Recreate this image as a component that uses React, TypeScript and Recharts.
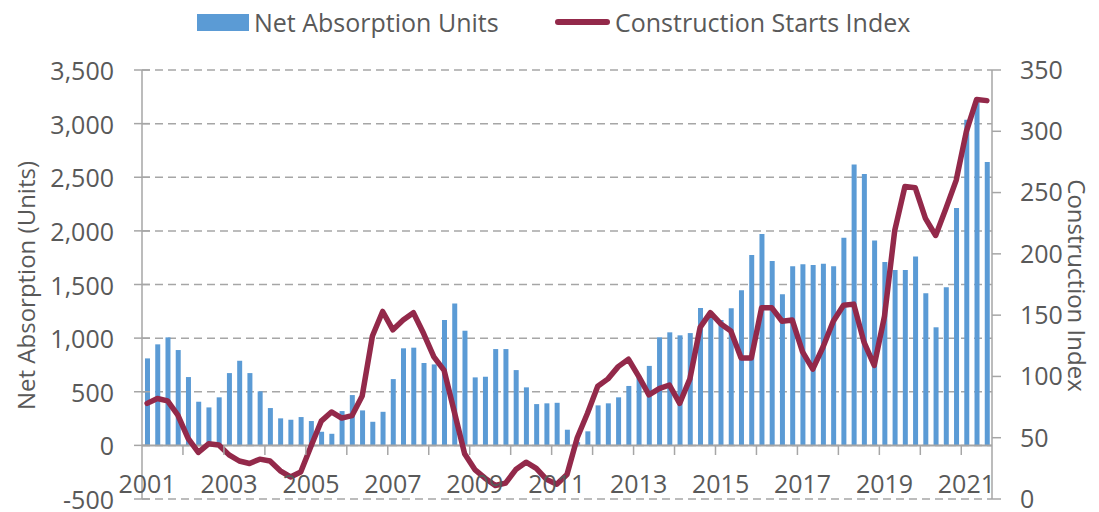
import React from "react";
import {
  ComposedChart,
  Bar,
  Line,
  XAxis,
  YAxis,
  CartesianGrid,
  ReferenceLine,
} from "recharts";

// quarterly series, 2001 Q1 .. 2021 Q3
const quarters = Array.from(
  { length: 83 },
  (_, i) => `${2001 + Math.floor(i / 4)} Q${(i % 4) + 1}`
);

const netAbsorption = [
  811, 942, 1007, 889, 637, 407, 354, 448, 674, 789, 674, 504, 348, 252,
  239, 264, 227, 127, 108, 320, 469, 326, 220, 313, 618, 905, 911, 768,
  755, 1169, 1324, 1069, 634, 640, 898, 898, 702, 541, 385, 392, 397, 146,
  30, 131, 373, 392, 448, 554, 644, 741, 1008, 1054, 1026, 1047, 1280, 1200,
  1169, 1278, 1446, 1775, 1971, 1719, 1408, 1670, 1688, 1682, 1694, 1670,
  1935, 2619, 2531, 1910, 1710, 1635, 1635, 1760, 1418, 1101, 1474, 2214,
  3035, 3200, 2642,
];

const constructionIndex = [
  78, 82, 80, 68.5, 49.5, 38, 45, 44, 36, 31, 29, 32.5, 31, 23, 18, 22, 43,
  63.5, 71, 66, 68, 84, 133, 153, 138, 146, 152, 135, 116, 105, 71, 37, 24,
  17, 11, 13, 24, 30, 25, 16, 12, 20, 50, 70, 92, 98, 108, 114, 100, 85, 90,
  93, 78, 98, 140, 152, 143, 137, 115, 115, 156, 156, 145, 146, 120, 106,
  124, 145, 158, 159, 128, 109, 149, 219, 255, 254, 229, 215, 237, 260, 300,
  326, 325,
];

const yearLabels = ["2001", "2003", "2005", "2007", "2009", "2011", "2013", "2015", "2017", "2019", "2021"];
const leftTicks = [-500, 0, 500, 1000, 1500, 2000, 2500, 3000, 3500];
const rightTicks = [0, 50, 100, 150, 200, 250, 300, 350];

const data = quarters.map((q, i) => ({
  q,
  absorption: netAbsorption[i],
  index: constructionIndex[i],
}));

const FONT = "'Open Sans', sans-serif";
const FS = 25;
const TEXT = "#595959";
const AXIS = "#A6A6A6";
const BLUE = "#5B9BD5";
const RED = "#93294A";

const W = 1091;
const H = 504;
const PLOT_LEFT = 134;
const PLOT_RIGHT = 984;
const ZERO_Y = 438;
const BAND = (PLOT_RIGHT - PLOT_LEFT) / quarters.length;

const XTick = (props: any) => {
  const { x, payload } = props;
  const idx = payload.index;
  const [yr, qt] = String(payload.value).split(" ");
  const showLabel = qt === "Q1" && yearLabels.includes(yr);
  return (
    <g>
      {idx % 4 === 0 && idx > 0 && (
        <line x1={x - BAND / 2} x2={x - BAND / 2} y1={ZERO_Y} y2={ZERO_Y + 9} stroke={AXIS} strokeWidth={1.5} />
      )}
      {showLabel && (
        <text x={x} y={475} textAnchor="middle" dominantBaseline="central" fill={TEXT} fontSize={FS} fontFamily={FONT}>
          {yr}
        </text>
      )}
    </g>
  );
};

// Excel style cross tick on the left axis
const LeftTick = (props: any) => {
  const { x, y, payload } = props;
  const ax = x + 28;
  return (
    <g>
      <line x1={ax - 8} x2={ax + 8} y1={y} y2={y} stroke={AXIS} strokeWidth={1.5} />
      <text x={x} y={y} textAnchor="end" dominantBaseline="central" fill={TEXT} fontSize={FS} fontFamily={FONT}>
        {Number(payload.value).toLocaleString("en-US")}
      </text>
    </g>
  );
};

const AxisTitle = (props: any) => {
  const { viewBox, text, side } = props;
  const cx = side === "left" ? viewBox.x + 17 : viewBox.x + viewBox.width - 22;
  const cy = viewBox.y + viewBox.height / 2 + 1;
  return (
    <text
      x={cx}
      y={cy}
      transform={`rotate(${side === "left" ? -90 : 90}, ${cx}, ${cy})`}
      textAnchor="middle"
      dominantBaseline="central"
      fill={TEXT}
      fontSize={24}
      fontFamily={FONT}
    >
      {text}
    </text>
  );
};

export default function App() {
  return (
    <div style={{ position: "relative", width: W, height: H, fontFamily: FONT }}>
      {/* legend */}
      <div style={{ position: "absolute", left: 189, top: 6, width: 52, height: 17, background: BLUE }} />
      <div style={{ position: "absolute", left: 246, top: 14, transform: "translateY(-50%)", fontSize: FS, color: TEXT, whiteSpace: "nowrap" }}>
        Net Absorption Units
      </div>
      <div style={{ position: "absolute", left: 547, top: 11, width: 55, height: 6, borderRadius: 3, background: RED }} />
      <div style={{ position: "absolute", left: 607, top: 14, transform: "translateY(-50%)", fontSize: FS, color: TEXT, whiteSpace: "nowrap" }}>
        Construction Starts Index
      </div>

      <ComposedChart width={W} height={H} data={data} margin={{ top: 62, right: 0, bottom: 0, left: 0 }}>
        <CartesianGrid yAxisId="left" vertical={false} stroke={AXIS} strokeWidth={1.5} strokeDasharray="8 5" />
        <XAxis
          dataKey="q"
          interval={0}
          height={13}
          axisLine={false}
          tickLine={false}
          tick={<XTick />}
        />
        <YAxis
          yAxisId="left"
          width={PLOT_LEFT}
          domain={[-500, 3500]}
          ticks={leftTicks}
          interval={0}
          allowDataOverflow
          tick={<LeftTick />}
          tickSize={8}
          tickMargin={20}
          axisLine={{ stroke: AXIS, strokeWidth: 1.5 }}
          tickLine={false}
          label={<AxisTitle text="Net Absorption (Units)" side="left" />}
        />
        <YAxis
          yAxisId="right"
          orientation="right"
          width={W - PLOT_RIGHT}
          domain={[0, 350]}
          ticks={rightTicks}
          interval={0}
          allowDataOverflow
          tick={{ fill: TEXT, fontSize: FS, fontFamily: FONT, textAnchor: "start" }}
          tickSize={9}
          tickMargin={19}
          axisLine={{ stroke: AXIS, strokeWidth: 1.5 }}
          tickLine={{ stroke: AXIS, strokeWidth: 1.5 }}
          label={<AxisTitle text="Construction Index" side="right" />}
        />
        <Bar yAxisId="left" dataKey="absorption" fill={BLUE} barSize={5} isAnimationActive={false} />
        <ReferenceLine yAxisId="left" y={0} stroke={AXIS} strokeWidth={2} />
        <Line
          yAxisId="right"
          dataKey="index"
          stroke={RED}
          strokeWidth={5.5}
          dot={false}
          type="linear"
          strokeLinejoin="round"
          strokeLinecap="round"
          isAnimationActive={false}
        />
      </ComposedChart>
    </div>
  );
}
